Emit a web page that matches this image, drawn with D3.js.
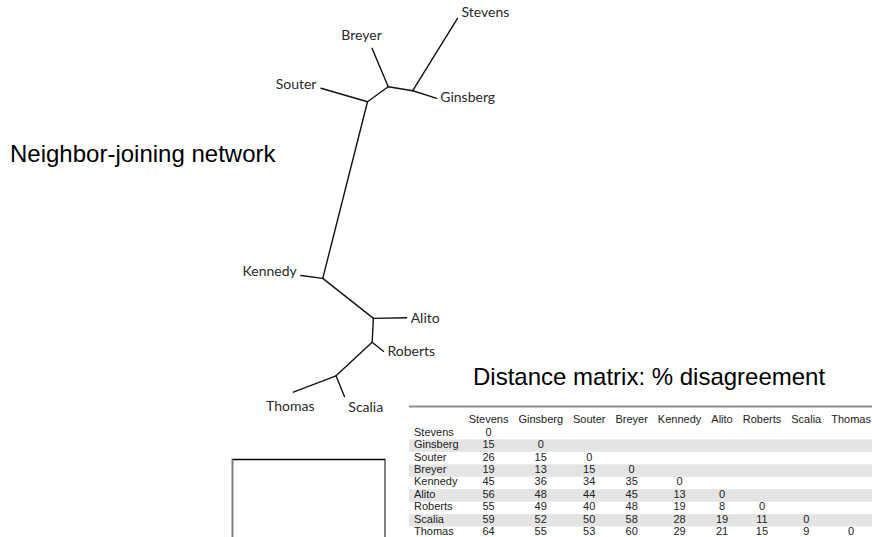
<!DOCTYPE html>
<html>
<head>
<meta charset="utf-8">
<script src="https://cdn.jsdelivr.net/npm/d3@7"></script>
<style>
  html, body { margin: 0; padding: 0; background: #fff; }
  svg { display: block; }
</style>
</head>
<body>
<div id="chart"></div>
<script>
const justices = ["Stevens", "Ginsberg", "Souter", "Breyer", "Kennedy", "Alito", "Roberts", "Scalia", "Thomas"];

// lower triangle of the % disagreement matrix, row i holds i + 1 values
const disagreement = [
  [0],
  [15, 0],
  [26, 15, 0],
  [19, 13, 15, 0],
  [45, 36, 34, 35, 0],
  [56, 48, 44, 45, 13, 0],
  [55, 49, 40, 48, 19, 8, 0],
  [59, 52, 50, 58, 28, 19, 11, 0],
  [64, 55, 53, 60, 29, 21, 15, 9, 0],
];

// neighbor-joining tree, unrooted: [parent, child, branch length, direction in degrees]
const tree_root = "n4";
const branches = [
  ["n4", "n3", 22.77, -75.8],
  ["n3", "Souter", 6.05, -163.8],
  ["n3", "n2", 3.2, -35.9],
  ["n2", "Breyer", 5.21, -112.9],
  ["n2", "n1", 3.1, 9.3],
  ["n1", "Stevens", 10.64, -58.3],
  ["n1", "Ginsberg", 3.15, 17.6],
  ["n4", "Kennedy", 2.77, -172.7],
  ["n4", "n5", 8.06, 38.3],
  ["n5", "Alito", 4.15, -1.0],
  ["n5", "n6", 3.0, 93.1],
  ["n6", "Roberts", 1.8, 38.2],
  ["n6", "n7", 6.15, 137.1],
  ["n7", "Thomas", 5.72, 159.0],
  ["n7", "Scalia", 2.82, 67.9],
];

const width = 872;
const height = 537;

const svg = d3
  .select("#chart")
  .append("svg")
  .attr("width", width)
  .attr("height", height);

const title_font = "Arial, 'Liberation Sans', sans-serif";

// ---- tree ----
const tree_box = { left: 293.3, right: 457.5, top: 18.3, bottom: 396.7 };

const label_place = {
  Stevens: { anchor: "start", dx: 4, dy: -1.5 },
  Ginsberg: { anchor: "start", dx: 3.5, dy: 3.8 },
  Breyer: { anchor: "middle", dx: -10.5, dy: -8 },
  Souter: { anchor: "end", dx: -4.5, dy: 0.8 },
  Kennedy: { anchor: "end", dx: -4, dy: 0.3 },
  Alito: { anchor: "start", dx: 4, dy: 5.5 },
  Roberts: { anchor: "start", dx: 4, dy: 5.2 },
  Scalia: { anchor: "start", dx: 3.8, dy: 15 },
  Thomas: { anchor: "middle", dx: -3, dy: 19.3 },
};

const node_pos = { [tree_root]: [0, 0] };
branches.forEach(([parent, child, len, angle]) => {
  const a = (angle * Math.PI) / 180;
  const [px, py] = node_pos[parent];
  node_pos[child] = [px + len * Math.cos(a), py + len * Math.sin(a)];
});

const all_pos = Object.values(node_pos);
const X = d3
  .scaleLinear()
  .domain(d3.extent(all_pos, (d) => d[0]))
  .range([tree_box.left, tree_box.right]);
const Y = d3
  .scaleLinear()
  .domain(d3.extent(all_pos, (d) => d[1]))
  .range([tree_box.top, tree_box.bottom]);

const tree_g = svg.append("g").attr("class", "tree");

tree_g
  .selectAll("line.branch")
  .data(branches)
  .join("line")
  .attr("class", "branch")
  .attr("x1", (d) => X(node_pos[d[0]][0]))
  .attr("y1", (d) => Y(node_pos[d[0]][1]))
  .attr("x2", (d) => X(node_pos[d[1]][0]))
  .attr("y2", (d) => Y(node_pos[d[1]][1]))
  .attr("stroke", "#111")
  .attr("stroke-width", 1.4)
  .attr("stroke-linecap", "round");

tree_g
  .selectAll("text.leaf")
  .data(justices)
  .join("text")
  .attr("class", "leaf")
  .attr("x", (d) => X(node_pos[d][0]) + label_place[d].dx)
  .attr("y", (d) => Y(node_pos[d][1]) + label_place[d].dy)
  .attr("text-anchor", (d) => label_place[d].anchor)
  .attr("font-family", "Lato, 'Open Sans', sans-serif")
  .attr("font-size", 14)
  .attr("fill", "#2a2a2a")
  .text((d) => d);

svg
  .append("text")
  .attr("x", 10)
  .attr("y", 162)
  .attr("font-family", title_font)
  .attr("font-size", 24)
  .attr("fill", "#000")
  .text("Neighbor-joining network");

// ---- empty frame below the tree ----
const frame = { x: 232.5, y: 459.5, w: 152.5 };
svg
  .append("rect")
  .attr("x", frame.x)
  .attr("y", frame.y)
  .attr("width", frame.w)
  .attr("height", 100)
  .attr("fill", "none")
  .attr("stroke", "#808080")
  .attr("stroke-width", 2);
svg
  .append("line")
  .attr("x1", frame.x)
  .attr("x2", frame.x + frame.w)
  .attr("y1", frame.y)
  .attr("y2", frame.y)
  .attr("stroke", "#000")
  .attr("stroke-width", 1);

// ---- distance matrix ----
svg
  .append("text")
  .attr("x", 473)
  .attr("y", 385)
  .attr("font-family", title_font)
  .attr("font-size", 24)
  .attr("fill", "#000")
  .text("Distance matrix: % disagreement");

const table = { left: 409, top: 406.5, row_h: 12.45, pad: 5, gap: 10 };

const rows_Y = d3
  .scaleBand()
  .domain(["header", ...justices])
  .range([table.top + 8, table.top + 8 + 10 * table.row_h]);
const row_h = rows_Y.bandwidth();
const base = (key) => rows_Y(key) + row_h / 2 + 2.5;

const table_g = svg
  .append("g")
  .attr("font-family", title_font)
  .attr("font-size", 11)
  .attr("fill", "#222");

table_g
  .selectAll("rect.shade")
  .data(justices.filter((d, i) => i % 2 === 1))
  .join("rect")
  .attr("class", "shade")
  .attr("x", table.left)
  .attr("y", (d) => rows_Y(d))
  .attr("width", width - table.left)
  .attr("height", row_h)
  .attr("fill", "#e4e4e4");

table_g
  .append("line")
  .attr("x1", table.left)
  .attr("x2", width)
  .attr("y1", table.top)
  .attr("y2", table.top)
  .attr("stroke", "#8e8e8e")
  .attr("stroke-width", 2);

const row_labels = table_g
  .selectAll("text.row_label")
  .data(justices)
  .join("text")
  .attr("class", "row_label")
  .attr("x", table.left + table.pad)
  .attr("y", (d) => base(d))
  .text((d) => d);

const label_w = d3.max(row_labels.nodes(), (n) => n.getComputedTextLength());

const col = {};
let cursor = table.left + table.pad + label_w + table.gap;
table_g
  .selectAll("text.col_label")
  .data(justices)
  .join("text")
  .attr("class", "col_label")
  .attr("y", base("header"))
  .text((d) => d)
  .each(function (d) {
    const w = this.getComputedTextLength();
    col[d] = { start: cursor, mid: cursor + w / 2 };
    d3.select(this).attr("x", cursor);
    cursor += w + table.gap;
  });

const cells = disagreement.flatMap((row, i) =>
  row.map((v, j) => ({ row: justices[i], col: justices[j], value: v }))
);

table_g
  .selectAll("text.cell")
  .data(cells)
  .join("text")
  .attr("class", "cell")
  .attr("x", (d) => col[d.col].mid)
  .attr("y", (d) => base(d.row))
  .attr("text-anchor", "middle")
  .text((d) => d.value);
</script>
</body>
</html>
